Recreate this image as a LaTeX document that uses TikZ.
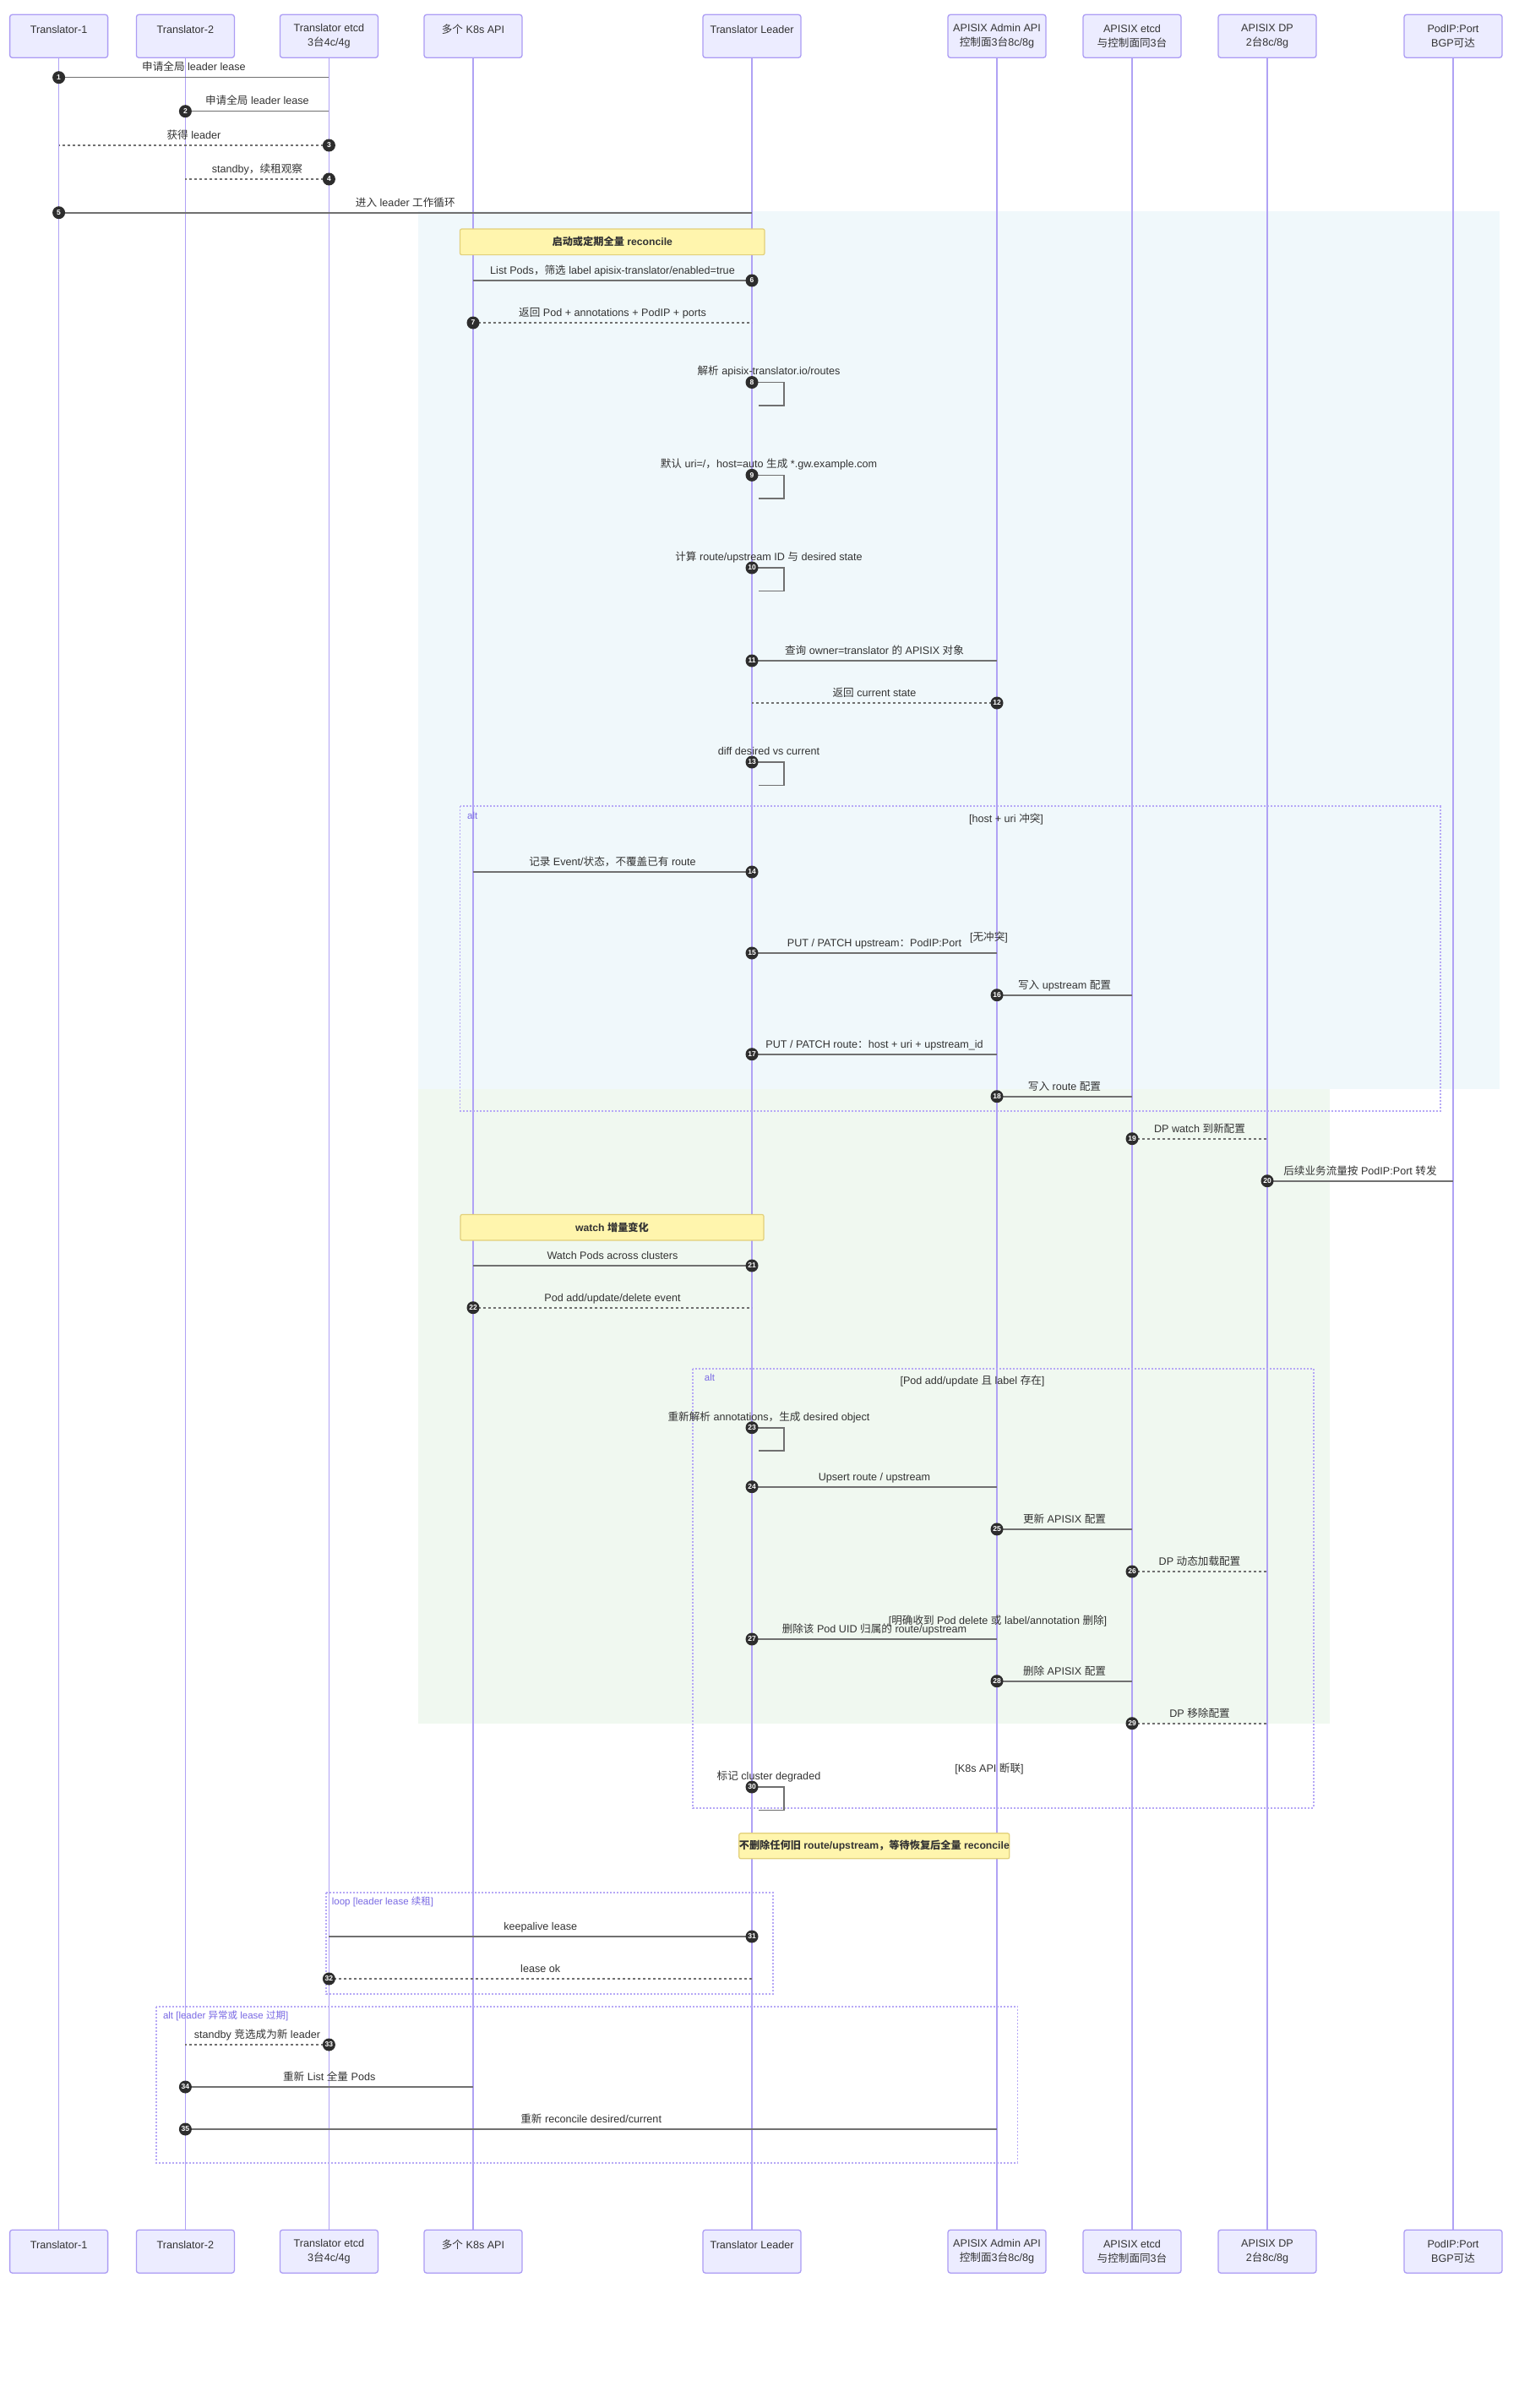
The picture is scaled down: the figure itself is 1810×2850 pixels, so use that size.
\documentclass[tikz,border=0pt]{standalone}
\usepackage{fontspec}
\setmainfont{Liberation Sans}
\newfontfamily\cjkf{Noto Sans CJK SC}
\usetikzlibrary{calc}
\XeTeXinterchartokenstate=1
\newXeTeXintercharclass\CJKcls
\newcount\cjkcnt
\def\setcjkrange#1#2{\cjkcnt=#1 \loop\XeTeXcharclass\cjkcnt=\CJKcls\relax\ifnum\cjkcnt<#2 \advance\cjkcnt by 1 \repeat}
\setcjkrange{"4E00}{"9FFF}
\setcjkrange{"3000}{"303F}
\setcjkrange{"FF00}{"FFEF}
\XeTeXinterchartoks 0 \CJKcls = {\cjkf}
\XeTeXinterchartoks 4095 \CJKcls = {\cjkf}
\XeTeXinterchartoks \CJKcls 0 = {\rmfamily}
\XeTeXinterchartoks \CJKcls 4095 = {\rmfamily}

\definecolor{bgblue}{RGB}{240,248,251}
\definecolor{bggreen}{RGB}{240,248,240}
\definecolor{actorfill}{RGB}{236,236,255}
\definecolor{actorborder}{RGB}{172,156,244}
\definecolor{lifecol}{RGB}{176,162,245}
\definecolor{msgcol}{RGB}{112,112,112}
\definecolor{numfill}{RGB}{45,45,45}
\definecolor{txt}{RGB}{51,51,51}
\definecolor{framecol}{RGB}{182,168,246}
\definecolor{framelab}{RGB}{122,106,228}
\definecolor{notefill}{RGB}{255,245,173}
\definecolor{noteborder}{RGB}{226,208,122}

\def\xTa{69.6}\def\xTb{219.4}\def\xTE{389.4}\def\xK{560}\def\xL{890}
\def\xA{1180}\def\xAE{1340}\def\xDP{1500}\def\xP{1720}

\newcommand\actorpair[3]{%
  \node[actor] (#1t) at (#2,42.8) {#3};
  \node[actor] (#1b) at (#2,2664.7) {#3};
}
\newcommand\msg[6]{%
  \coordinate (m#1s) at (#2,#4);
  \coordinate (m#1e) at (#3,#4);
  \draw[msgline,#5] (m#1s) -- (m#1e);
  \node[mlabel,anchor=base] (l#1) at ($(m#1s)!0.5!(m#1e)+(0,-7.7)$) {#6};
  \node[numc] (n#1) at (m#1s) {#1};
}
\newcommand\selfmsg[3]{%
  \coordinate (m#1s) at (\xL,#2);
  \coordinate (m#1r) at (927.9,#2);
  \coordinate (m#1d) at (927.9,{#2+27.5});
  \coordinate (m#1e) at (897.8,{#2+27.5});
  \draw[msgline] (m#1s) -- (m#1r) -- (m#1d) -- (m#1e);
  \node[mlabel,anchor=base] (l#1) at ({\xL+20},{#2-8.7}) {#3};
  \node[numc] (n#1) at (m#1s) {#1};
}

\begin{document}
\begin{tikzpicture}[x=1pt,y=-1pt,
  every node/.style={font=\fontsize{12.6}{16.5}\selectfont, text=txt},
  actor/.style={draw=actorborder, fill=actorfill, line width=1.3pt, rounded corners=3pt,
    minimum width=116pt, minimum height=51pt, inner sep=0pt, align=center},
  lifeline/.style={draw=lifecol, line width=1.2pt},
  msgline/.style={draw=msgcol, line width=1.6pt},
  dashmsg/.style={dash pattern=on 3pt off 3pt},
  numc/.style={circle, fill=numfill, text=white, minimum size=15pt, inner sep=0pt,
    font=\fontsize{8.5}{8.5}\selectfont\bfseries},
  mlabel/.style={inner sep=0pt},
  frame/.style={draw=framecol, line width=1.8pt, dash pattern=on 2pt off 2pt},
  framelabel/.style={text=framelab, font=\fontsize{11.5}{13}\selectfont, anchor=base west, inner sep=0pt},
  sectlabel/.style={inner sep=0pt, anchor=base},
  note/.style={draw=noteborder, fill=notefill, line width=1.2pt, rounded corners=2pt, inner sep=0pt,
    font=\fontsize{12.2}{14}\selectfont\bfseries}]

% canvas
\fill[white] (0,0) rectangle (1810,2850);
\useasboundingbox (0,0) rectangle (1810,2850);

% background regions
\fill[bgblue] (494.5,250) rectangle (1775,1289.3);
\fill[bggreen] (494.5,1289.3) rectangle (1574,2039.7);

% actors
\actorpair{T1}{\xTa}{Translator-1\\\mbox{}}
\actorpair{T2}{\xTb}{Translator-2\\\mbox{}}
\actorpair{TE}{\xTE}{Translator etcd\\3台4c/4g}
\actorpair{K}{\xK}{多个 K8s API\\\mbox{}}
\actorpair{L}{\xL}{Translator Leader\\\mbox{}}
\actorpair{A}{\xA}{APISIX Admin API\\控制面3台8c/8g}
\actorpair{AE}{\xAE}{APISIX etcd\\与控制面同3台}
\actorpair{DP}{\xDP}{APISIX DP\\2台8c/8g}
\actorpair{P}{\xP}{PodIP:Port\\BGP可达}

% lifelines
\foreach \a in {T1,T2,TE,K,L,A,AE,DP,P}{
  \draw[lifeline] (\a t.south) -- (\a b.north);
}

% frames
\coordinate (f1a) at (544.5,954.3); \coordinate (f1b) at (1704.7,1315);
\draw[frame] (f1a) rectangle (f1b);
\node[framelabel] at (553,969.7) {alt};
\node[sectlabel] at (1191,973.3) {[host + uri 冲突]};
\node[sectlabel] at (1170.5,1113.3) {[无冲突]};

\coordinate (f2a) at (820,1619.7); \coordinate (f2b) at (1554.6,2139.7);
\draw[frame] (f2a) rectangle (f2b);
\node[framelabel] at (833.7,1634.4) {alt};
\node[sectlabel] at (1151,1638.1) {[Pod add/update 且 label 存在]};
\node[sectlabel] at (1181,1922.9) {[明确收到 Pod delete 或 label/annotation 删除]};
\node[sectlabel] at (1171,2097.8) {[K8s API 断联]};

\coordinate (f3a) at (385.7,2240); \coordinate (f3b) at (914.6,2360);
\draw[frame] (f3a) rectangle (f3b);
\node[framelabel] at (392.7,2254.3) {loop [leader lease 续租]};

\coordinate (f4a) at (185,2374.7); \coordinate (f4b) at (1204.4,2559.7);
\draw[frame] (f4a) rectangle (f4b);
\node[framelabel] at (192.8,2389.3) {alt [leader 异常或 lease 过期]};

% notes
\node[note, minimum width=360.5pt, minimum height=30.6pt] (note1) at (724.75,286.3) {启动或定期全量 reconcile};
\node[note, minimum width=359pt, minimum height=30.5pt] (note2) at (724.5,1452.75) {watch 增量变化};
\node[note, minimum width=319.6pt, minimum height=30pt] (note3) at (1034.8,2184.8) {不删除任何旧 route/upstream，等待恢复后全量 reconcile};

% messages
\msg{1}{\xTa}{\xTE}{91.7}{solid}{申请全局 leader lease}
\msg{2}{\xTb}{\xTE}{131.7}{solid}{申请全局 leader lease}
\msg{3}{\xTE}{\xTa}{172}{dashmsg}{获得 leader}
\msg{4}{\xTE}{\xTb}{212}{dashmsg}{standby，续租观察}
\msg{5}{\xTa}{\xL}{251.7}{solid}{进入 leader 工作循环}
\msg{6}{\xL}{\xK}{332}{solid}{List Pods，筛选 label apisix-translator/enabled=true}
\msg{7}{\xK}{\xL}{382}{dashmsg}{返回 Pod + annotations + PodIP + ports}
\selfmsg{8}{452.5}{解析 apisix-translator.io/routes}
\selfmsg{9}{562.3}{默认 uri=/，host=auto 生成 *.gw.example.com}
\selfmsg{10}{672}{计算 route/upstream ID 与 desired state}
\msg{11}{\xL}{\xA}{782}{solid}{查询 owner=translator 的 APISIX 对象}
\msg{12}{\xA}{\xL}{832}{dashmsg}{返回 current state}
\selfmsg{13}{902}{diff desired vs current}
\msg{14}{\xL}{\xK}{1032}{solid}{记录 Event/状态，不覆盖已有 route}
\msg{15}{\xL}{\xA}{1128}{solid}{PUT / PATCH upstream：PodIP:Port}
\msg{16}{\xA}{\xAE}{1177.7}{solid}{写入 upstream 配置}
\msg{17}{\xL}{\xA}{1247.7}{solid}{PUT / PATCH route：host + uri + upstream\_id}
\msg{18}{\xA}{\xAE}{1297.7}{solid}{写入 route 配置}
\msg{19}{\xAE}{\xDP}{1347.7}{dashmsg}{DP watch 到新配置}
\msg{20}{\xDP}{\xP}{1397.7}{solid}{后续业务流量按 PodIP:Port 转发}
\msg{21}{\xL}{\xK}{1498}{solid}{Watch Pods across clusters}
\msg{22}{\xK}{\xL}{1547.7}{dashmsg}{Pod add/update/delete event}
\selfmsg{23}{1689.7}{重新解析 annotations，生成 desired object}
\msg{24}{\xL}{\xA}{1759.7}{solid}{Upsert route / upstream}
\msg{25}{\xA}{\xAE}{1809.9}{solid}{更新 APISIX 配置}
\msg{26}{\xAE}{\xDP}{1860}{dashmsg}{DP 动态加载配置}
\msg{27}{\xL}{\xA}{1940}{solid}{删除该 Pod UID 归属的 route/upstream}
\msg{28}{\xA}{\xAE}{1989.7}{solid}{删除 APISIX 配置}
\msg{29}{\xAE}{\xDP}{2039.7}{dashmsg}{DP 移除配置}
\selfmsg{30}{2115}{标记 cluster degraded}
\msg{31}{\xL}{\xTE}{2292}{solid}{keepalive lease}
\msg{32}{\xTE}{\xL}{2342}{dashmsg}{lease ok}
\msg{33}{\xTE}{\xTb}{2420}{dashmsg}{standby 竞选成为新 leader}
\msg{34}{\xTb}{\xK}{2470}{solid}{重新 List 全量 Pods}
\msg{35}{\xTb}{\xA}{2520}{solid}{重新 reconcile desired/current}

\end{tikzpicture}
\end{document}
